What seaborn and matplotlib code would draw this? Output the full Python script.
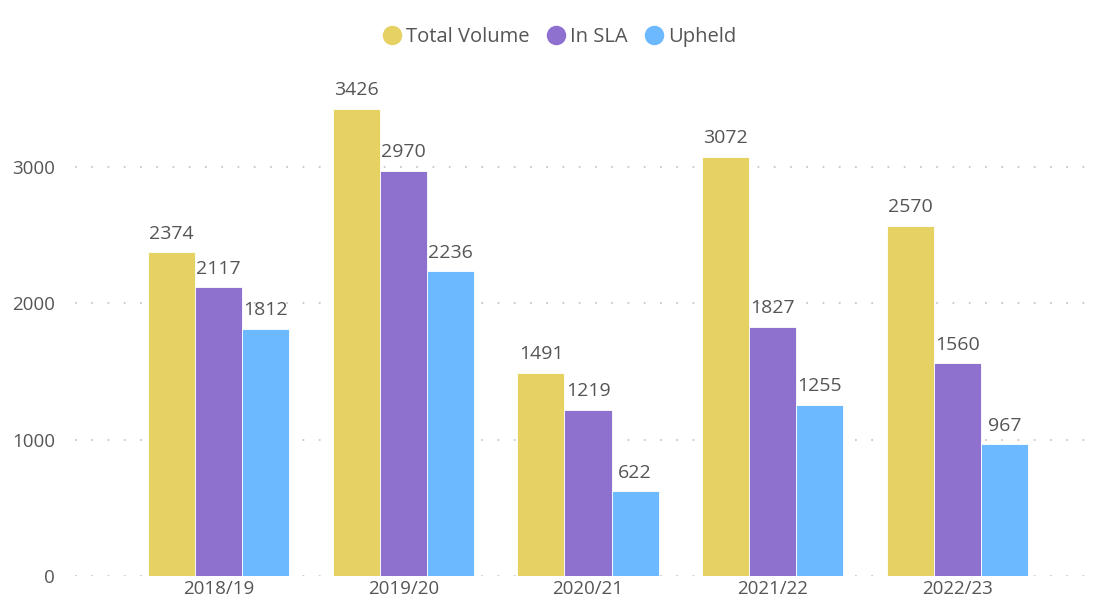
import pandas as pd
import matplotlib
matplotlib.use("Agg")
import matplotlib.pyplot as plt
import seaborn as sns
from matplotlib.lines import Line2D

# Data
years = ['2018/19', '2019/20', '2020/21', '2021/22', '2022/23']
total_volume = [2374, 3426, 1491, 3072, 2570]
in_sla = [2117, 2970, 1219, 1827, 1560]
upheld = [1812, 2236, 622, 1255, 967]
series = ['Total Volume', 'In SLA', 'Upheld']
colors = ['#E6D163', '#8E70CF', '#6CB9FF']

df = pd.DataFrame({
    'Year': years * 3,
    'Series': [s for s in series for _ in years],
    'Value': total_volume + in_sla + upheld,
})

sns.set_theme(style='white')
plt.rcParams['font.family'] = ['Open Sans', 'DejaVu Sans']

fig = plt.figure(figsize=(10.97, 6.04), dpi=100)
ax = fig.add_axes([0.068, 0.046, 0.926, 0.838])

sns.barplot(data=df, x='Year', y='Value', hue='Series', palette=colors,
            width=0.765, ax=ax, legend=False, saturation=1,
            edgecolor='white', linewidth=0.6)

for c in ax.containers:
    ax.bar_label(c, labels=[f'{int(v)}' for v in c.datavalues], padding=7,
                 fontsize=14, color='#555555')

ax.set_ylim(0, 3711)
ax.set_xlim(-0.78, 4.72)
ax.set_yticks([0, 1000, 2000, 3000])
ax.grid(axis='y', linestyle=(0, (1, 8)), color='#C8C8C8', linewidth=1.3)
ax.set_axisbelow(True)
sns.despine(ax=ax, left=True, bottom=True)
ax.set_xlabel('')
ax.set_ylabel('')
ax.tick_params(axis='both', length=0, labelsize=13.5, colors='#555555')
ax.tick_params(axis='y', pad=14)
ax.tick_params(axis='x', pad=3)

handles = [Line2D([0], [0], marker='o', linestyle='', markersize=13,
                  markerfacecolor=c, markeredgecolor=c) for c in colors]
fig.legend(handles, series, loc='upper center', bbox_to_anchor=(0.505, 0.985),
           ncol=3, frameon=False, fontsize=14.5, handletextpad=-0.3,
           columnspacing=0.3, labelcolor='#555555')

fig.savefig('out.png', dpi=100)
